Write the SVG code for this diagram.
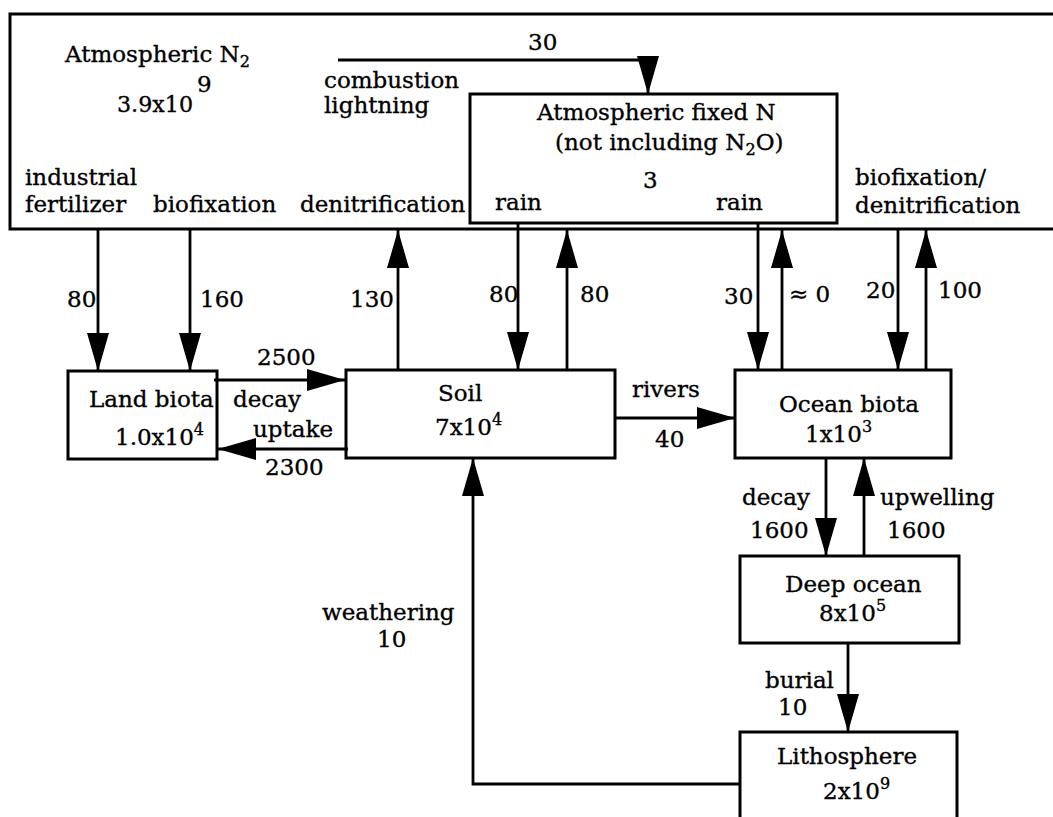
<svg xmlns="http://www.w3.org/2000/svg" width="1053" height="817" viewBox="0 0 1053 817">
<defs>
<marker id="ah" markerUnits="userSpaceOnUse" markerWidth="40" markerHeight="24" refX="38" refY="11" orient="auto">
<path d="M0,0 L38,11 L0,22 z" fill="#000"/>
</marker>
<style>
text{font-family:"DejaVu Serif","Liberation Serif",serif;font-size:23px;fill:#000;stroke:#000;stroke-width:0.35}
.box{fill:#fff;stroke:#000;stroke-width:3}
.c{fill:none;stroke:#000;stroke-width:2.8}
.a{marker-end:url(#ah)}
.sup{font-size:16px}
</style>
</defs>
<rect width="1053" height="817" fill="#fff"/>
<g id="atmN2">
<path class="box" d="M1060,14 L10,14 L10,229 L1060,229"/>
<text x="65" y="62">Atmospheric N<tspan class="sup" dy="5">2</tspan></text>
<text x="197" y="92">9</text>
<text x="117" y="112" textLength="76" lengthAdjust="spacingAndGlyphs">3.9x10</text>
<text x="324" y="88">combustion</text>
<text x="324" y="113">lightning</text>
<text x="25" y="185">industrial</text>
<text x="25" y="212">fertilizer</text>
<text x="153" y="212">biofixation</text>
<text x="300" y="212">denitrification</text>
<text x="855" y="185">biofixation/</text>
<text x="855" y="213">denitrification</text>
</g>
<g id="atmFixedN">
<rect class="box" x="470" y="94" width="367" height="129"/>
<text x="537" y="120">Atmospheric fixed N</text>
<text x="555" y="150">(not including N<tspan class="sup" dy="5">2</tspan><tspan dy="-5">O)</tspan></text>
<text x="643" y="188">3</text>
<text x="495" y="210">rain</text>
<text x="716" y="210">rain</text>
</g>
<g id="landBiota">
<rect class="box" x="68" y="371" width="149" height="88"/>
<text x="89" y="407">Land biota</text>
<text x="115" y="445">1.0x10<tspan class="sup" dy="-10">4</tspan></text>
</g>
<g id="soil">
<rect class="box" x="346" y="370" width="269" height="88"/>
<text x="438" y="401">Soil</text>
<text x="435" y="435">7x10<tspan class="sup" dy="-10">4</tspan></text>
</g>
<g id="oceanBiota">
<rect class="box" x="735" y="370" width="216" height="88"/>
<text x="779" y="412">Ocean biota</text>
<text x="805" y="442">1x10<tspan class="sup" dy="-10">3</tspan></text>
</g>
<g id="deepOcean">
<rect class="box" x="740" y="556" width="219" height="87"/>
<text x="785" y="592">Deep ocean</text>
<text x="819" y="621">8x10<tspan class="sup" dy="-10">5</tspan></text>
</g>
<g id="lithosphere">
<path class="box" d="M740,830 L740,732 L957,732 L957,830"/>
<text x="777" y="764">Lithosphere</text>
<text x="823" y="799">2x10<tspan class="sup" dy="-10">9</tspan></text>
</g>
<g id="connectors">
<polyline class="c a" points="338,60 648,60 648,94"/>
<line class="c a" x1="98" y1="230" x2="98" y2="371"/>
<line class="c a" x1="190" y1="230" x2="190" y2="371"/>
<line class="c a" x1="398" y1="370" x2="398" y2="230"/>
<line class="c a" x1="518" y1="223" x2="518" y2="370"/>
<line class="c a" x1="567" y1="370" x2="567" y2="230"/>
<line class="c a" x1="758" y1="223" x2="758" y2="370"/>
<line class="c a" x1="782" y1="370" x2="782" y2="230"/>
<line class="c a" x1="898" y1="230" x2="898" y2="370"/>
<line class="c a" x1="926" y1="370" x2="926" y2="230"/>
<line class="c a" x1="214" y1="380" x2="345" y2="380"/>
<line class="c a" x1="348" y1="449" x2="218" y2="449"/>
<line class="c a" x1="615" y1="418" x2="735" y2="418"/>
<line class="c a" x1="826" y1="458" x2="826" y2="556"/>
<line class="c a" x1="864" y1="556" x2="864" y2="458"/>
<line class="c a" x1="848" y1="643" x2="848" y2="732"/>
<polyline class="c a" points="740,784 473,784 473,458"/>
<text x="528" y="50">30</text>
<text x="67" y="307">80</text>
<text x="200" y="307">160</text>
<text x="350" y="307">130</text>
<text x="489" y="302">80</text>
<text x="580" y="302">80</text>
<text x="724" y="304">30</text>
<text x="789" y="302">≈ 0</text>
<text x="866" y="298">20</text>
<text x="938" y="298">100</text>
<text x="257" y="365">2500</text>
<text x="233" y="407">decay</text>
<text x="253" y="437">uptake</text>
<text x="265" y="475">2300</text>
<text x="632" y="397">rivers</text>
<text x="655" y="447">40</text>
<text x="742" y="505">decay</text>
<text x="750" y="538">1600</text>
<text x="880" y="505">upwelling</text>
<text x="887" y="538">1600</text>
<text x="765" y="688">burial</text>
<text x="778" y="715">10</text>
<text x="322" y="620">weathering</text>
<text x="377" y="647">10</text>
</g>
</svg>
